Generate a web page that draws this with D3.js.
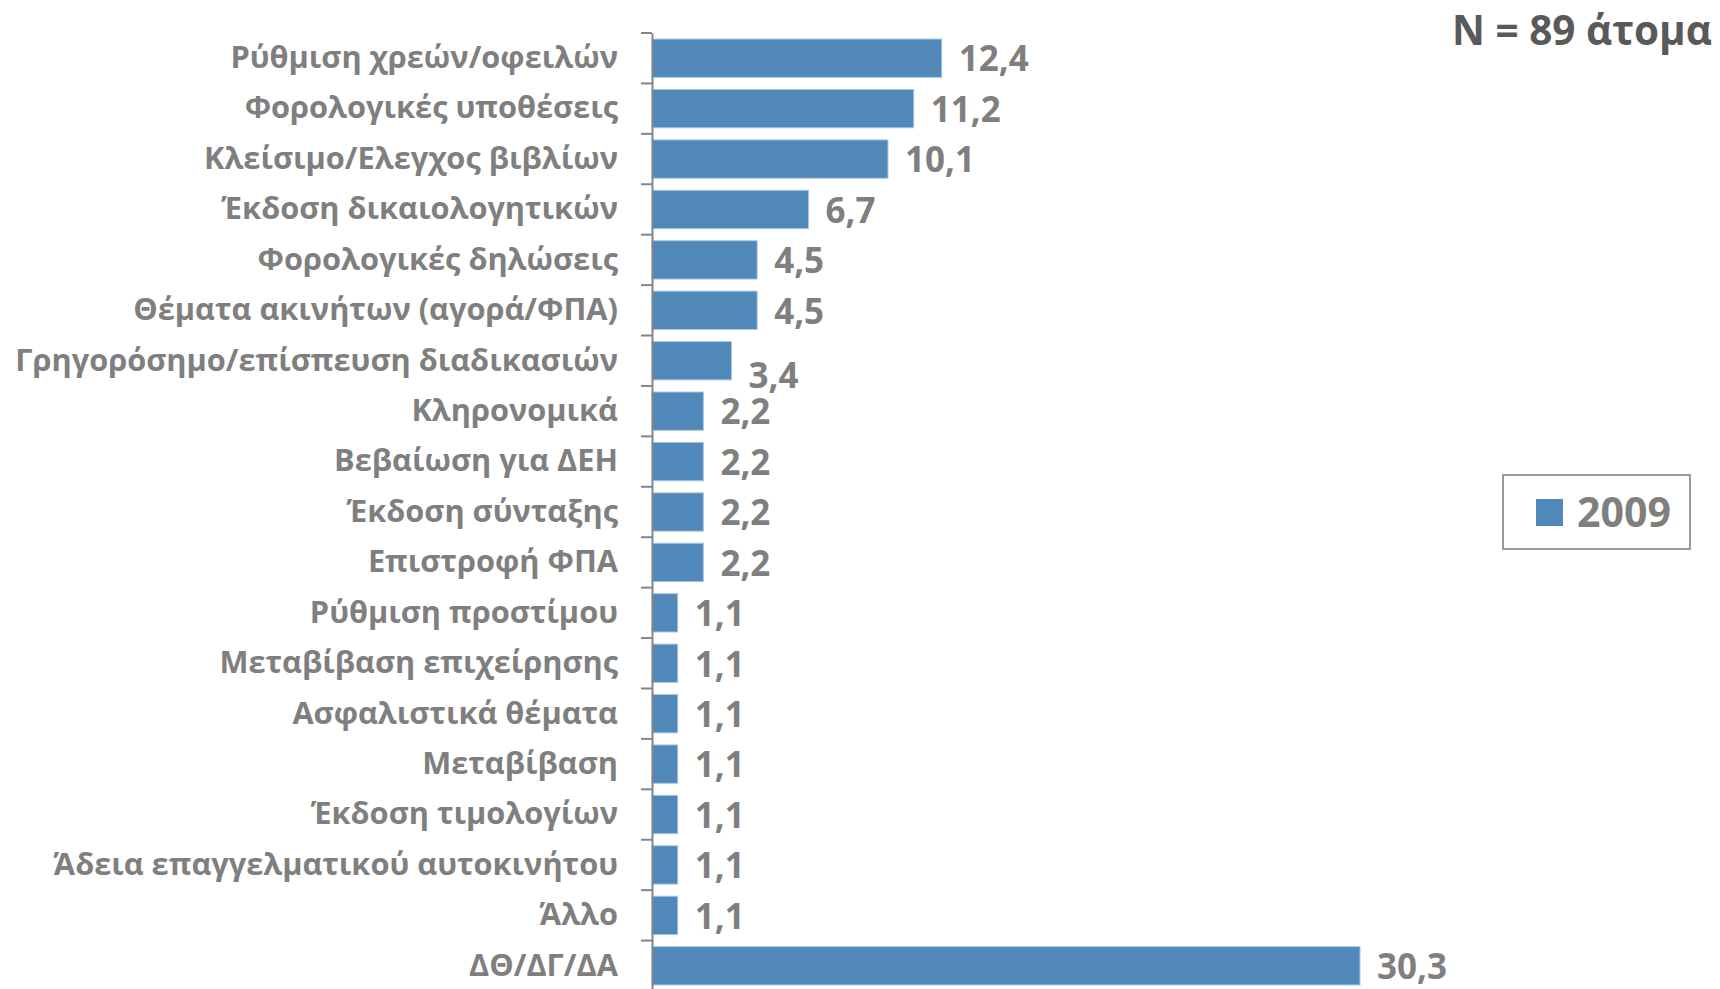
<!DOCTYPE html>
<html>
<head>
<meta charset="utf-8">
<script src="https://d3js.org/d3.v7.min.js"></script>
<style>
  body { margin: 0; background: #fff; }
  text { font-family: "Open Sans", sans-serif; font-weight: bold; }
</style>
</head>
<body>
<script>
var w = 1720, h = 989

var categories = [
  'Ρύθμιση χρεών/οφειλών',
  'Φορολογικές υποθέσεις',
  'Κλείσιμο/Ελεγχος βιβλίων',
  'Έκδοση δικαιολογητικών',
  'Φορολογικές δηλώσεις',
  'Θέματα ακινήτων (αγορά/ΦΠΑ)',
  'Γρηγορόσημο/επίσπευση διαδικασιών',
  'Κληρονομικά',
  'Βεβαίωση για ΔΕΗ',
  'Έκδοση σύνταξης',
  'Επιστροφή ΦΠΑ',
  'Ρύθμιση προστίμου',
  'Μεταβίβαση επιχείρησης',
  'Ασφαλιστικά θέματα',
  'Μεταβίβαση',
  'Έκδοση τιμολογίων',
  'Άδεια επαγγελματικού αυτοκινήτου',
  'Άλλο',
  'ΔΘ/ΔΓ/ΔΑ'
]
var values2009 = [12.4, 11.2, 10.1, 6.7, 4.5, 4.5, 3.4, 2.2, 2.2, 2.2, 2.2, 1.1, 1.1, 1.1, 1.1, 1.1, 1.1, 1.1, 30.3]
var seriesName = '2009'
var title = 'N = 89 άτομα'

var svg = d3.select('body').append('svg')
  .attr('width', w)
  .attr('height', h)

// scale a group of texts so that one of them has the wanted width
function fitFont(sel, ref, width) {
  var len = ref.node().getComputedTextLength()
  var size = +ref.attr('font-size') * width / len
  sel.attr('font-size', size)
}

var x0 = 652
var x = d3.scaleLinear().domain([0, 30.3]).range([x0, 1360])
var y = d3.scaleBand().domain(categories).range([33, 991]).paddingInner(0.24).paddingOuter(0.12)

var bars = svg.append('g')
bars.selectAll('rect')
  .data(values2009)
  .enter()
  .append('rect')
  .attr('x', x(0))
  .attr('y', function(d, i) { return y(categories[i]) })
  .attr('width', function(d) { return x(d) - x(0) })
  .attr('height', y.bandwidth())
  .attr('fill', '#5089b9')
  .attr('stroke', '#a9c6e2')
  .attr('stroke-width', 1)

// the 3,4 label sits a bit lower in the original
var nudge = {6: 14}
var vals = bars.selectAll('text')
  .data(values2009)
  .enter()
  .append('text')
  .text(function(d) { return d3.format('.1f')(d).replace('.', ',') })
  .attr('x', function(d) { return x(d) + 17 })
  .attr('y', function(d, i) { return y(categories[i]) + y.bandwidth() / 2 + 1 + (nudge[i] || 0) })
  .attr('dy', '0.35em')
  .attr('font-size', 30)
  .attr('fill', '#7f7f7f')
fitFont(vals, vals.filter(function(d, i) { return i === values2009.length - 1 }), 70)

// category axis with ticks between bands
var yAxis = svg.append('g')
  .attr('transform', 'translate(' + x0 + ',0)')
  .call(d3.axisLeft(y).tickSize(0).tickPadding(34))
yAxis.select('.domain').attr('stroke', '#868686').attr('stroke-width', 2)
var labels = yAxis.selectAll('.tick text')
  .attr('font-size', 30)
  .attr('fill', '#7f7f7f')
  .attr('font-family', null)
fitFont(labels, labels.filter(function(d) { return d === categories[6] }), 603)

var edges = d3.range(categories.length).map(function(i) { return y.range()[0] + i * y.step() })
yAxis.selectAll('.sep')
  .data(edges)
  .enter()
  .append('line')
  .attr('x1', -11).attr('x2', 0)
  .attr('y1', function(d) { return d }).attr('y2', function(d) { return d })
  .attr('stroke', '#868686')
  .attr('stroke-width', 2)

var t = svg.append('text')
  .text(title)
  .attr('x', 1712)
  .attr('y', 31)
  .attr('dy', '0.35em')
  .attr('text-anchor', 'end')
  .attr('font-size', 36)
  .attr('fill', '#595959')
fitFont(t, t, 260)

var legend = svg.append('g')
legend.append('rect')
  .attr('x', 1503).attr('y', 475)
  .attr('width', 187).attr('height', 74)
  .attr('fill', 'none')
  .attr('stroke', '#9a9a9a')
  .attr('stroke-width', 2)
legend.append('rect')
  .attr('x', 1536).attr('y', 499)
  .attr('width', 27).attr('height', 27)
  .attr('fill', '#5089b9')
var lt = legend.append('text')
  .text(seriesName)
  .attr('x', 1577)
  .attr('y', 513)
  .attr('dy', '0.35em')
  .attr('font-size', 36)
  .attr('fill', '#7f7f7f')
fitFont(lt, lt, 94)
</script>
</body>
</html>
